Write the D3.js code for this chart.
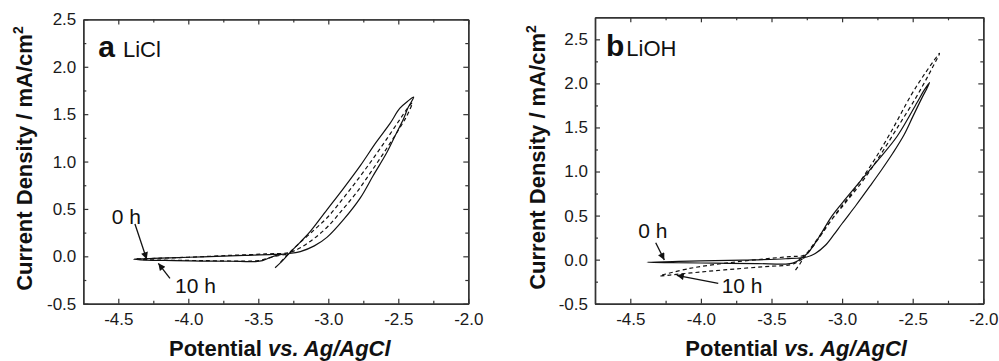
<!DOCTYPE html>
<html>
<head>
<meta charset="utf-8">
<script src="https://cdn.jsdelivr.net/npm/d3@7"></script>
<style>
  body { margin: 0; background: #fff; }
  svg { display: block; font-family: "Liberation Sans", Arial, sans-serif; }
  .tick text { font-size: 17px; fill: #1a1a1a; }
  .axis path, .axis line { stroke: #333; }
</style>
</head>
<body>
<svg id="chart"></svg>
<script>
// tick values
const xTicks = [-4.5, -4.0, -3.5, -3.0, -2.5, -2.0];
const xMinor = [-4.25, -3.75, -3.25, -2.75, -2.25];
const yTicks = [-0.5, 0.0, 0.5, 1.0, 1.5, 2.0, 2.5];
const yMinor = [-0.25, 0.25, 0.75, 1.25, 1.75, 2.25];

// LiCl, 0 h (solid) - potential V, current mA/cm2
const licl0h = [
  [-3.38, -0.12], [-3.33, -0.05], [-3.28, 0.03], [-3.20, 0.15], [-3.13, 0.26], [-3.01, 0.49],
  [-2.89, 0.72], [-2.77, 0.96], [-2.66, 1.20], [-2.56, 1.40], [-2.49, 1.56], [-2.43, 1.64], [-2.39, 1.68],
  [-2.43, 1.57], [-2.46, 1.46], [-2.52, 1.28], [-2.58, 1.10], [-2.68, 0.85], [-2.77, 0.62], [-2.89, 0.39],
  [-3.01, 0.20], [-3.10, 0.11], [-3.20, 0.05], [-3.28, 0.03],
  [-3.40, 0.02], [-3.60, 0.01], [-3.80, 0.00], [-4.00, -0.01], [-4.20, -0.02], [-4.39, -0.03],
  [-4.30, -0.04], [-4.10, -0.045], [-3.90, -0.05], [-3.70, -0.052], [-3.52, -0.055], [-3.47, -0.045],
  [-3.42, -0.015], [-3.37, 0.01], [-3.30, 0.025]
];
// LiCl, 10 h (dashed)
const licl10h = [
  [-3.34, -0.06], [-3.29, 0.02], [-3.22, 0.12], [-3.10, 0.28], [-3.00, 0.42], [-2.90, 0.60], [-2.80, 0.79],
  [-2.70, 0.99], [-2.60, 1.20], [-2.50, 1.42], [-2.44, 1.55], [-2.40, 1.62],
  [-2.44, 1.48], [-2.50, 1.33], [-2.60, 1.10], [-2.70, 0.88], [-2.80, 0.67], [-2.90, 0.49], [-3.00, 0.32],
  [-3.10, 0.19], [-3.20, 0.09], [-3.28, 0.04],
  [-3.45, 0.025], [-3.70, 0.01], [-4.00, -0.01], [-4.20, -0.02], [-4.38, -0.03],
  [-4.20, -0.04], [-3.90, -0.045], [-3.60, -0.05], [-3.50, -0.045], [-3.44, -0.025], [-3.38, 0.00], [-3.30, 0.02]
];
// LiOH, 0 h (solid)
const lioh0h = [
  [-3.29, 0.015], [-3.24, 0.08], [-3.17, 0.24], [-3.07, 0.50], [-2.97, 0.70], [-2.85, 0.93], [-2.74, 1.14],
  [-2.61, 1.40], [-2.47, 1.78], [-2.42, 1.92], [-2.38, 2.01],
  [-2.40, 1.94], [-2.43, 1.85], [-2.50, 1.62], [-2.56, 1.42], [-2.64, 1.21], [-2.72, 1.02], [-2.80, 0.84],
  [-2.90, 0.62], [-3.00, 0.41], [-3.06, 0.28], [-3.12, 0.16], [-3.19, 0.07], [-3.25, 0.03],
  [-3.40, 0.01], [-3.70, -0.005], [-4.00, -0.015], [-4.20, -0.022], [-4.38, -0.03],
  [-4.20, -0.035], [-3.90, -0.04], [-3.60, -0.045], [-3.40, -0.05], [-3.35, -0.04], [-3.31, -0.01], [-3.29, 0.015]
];
// LiOH, 10 h (dashed)
const lioh10h = [
  [-3.33, -0.12], [-3.30, -0.05], [-3.27, 0.02], [-3.22, 0.12], [-3.14, 0.30], [-3.04, 0.53], [-2.92, 0.78],
  [-2.78, 1.11], [-2.65, 1.46], [-2.51, 1.87], [-2.41, 2.12], [-2.31, 2.34],
  [-2.36, 2.18], [-2.42, 2.00], [-2.48, 1.83], [-2.60, 1.52], [-2.74, 1.16], [-2.86, 0.88], [-3.00, 0.60],
  [-3.10, 0.40], [-3.20, 0.18], [-3.27, 0.05],
  [-3.37, 0.035], [-3.60, 0.00], [-3.85, -0.045], [-4.08, -0.10], [-4.29, -0.185],
  [-4.22, -0.175], [-4.00, -0.14], [-3.75, -0.105], [-3.50, -0.075], [-3.37, -0.06], [-3.32, -0.03], [-3.28, 0.01]
];

// annotation labels and arrows, data units: [text, textX, textY, fromX, fromY, toX, toY]
const ann0hA = ["0 h", -4.547, 0.338, -4.381, 0.341, -4.297, -0.032];
const ann10hA = ["10 h", -4.095, -0.39, -4.131, -0.232, -4.214, -0.074];
const ann0hB = ["0 h", -4.443, 0.242, -4.32, 0.192, -4.259, -0.004];
const ann10hB = ["10 h", -3.853, -0.382, -3.877, -0.269, -4.171, -0.178];

const W = 999, H = 361;
const svg = d3.select("#chart").attr("width", W).attr("height", H);

svg.append("defs").append("marker")
  .attr("id", "arrow")
  .attr("viewBox", "0 0 10 10")
  .attr("refX", 10).attr("refY", 5)
  .attr("markerWidth", 9).attr("markerHeight", 7)
  .attr("markerUnits", "userSpaceOnUse")
  .attr("orient", "auto")
  .append("path").attr("d", "M0,0 L10,5 L0,10 z").attr("fill", "#111");

const fmt = d => d.toFixed(1);

function drawPanel(p) {
  const x = d3.scaleLinear().domain([-4.75, -2.0]).range([p.l, p.r]);
  const y = d3.scaleLinear().domain(p.yDomain).range([p.b, p.t]);
  const g = svg.append("g");

  // frame + ticks (all inward)
  g.append("g").attr("class", "axis").attr("transform", `translate(0,${p.b})`)
    .call(d3.axisBottom(x).tickValues(xTicks).tickFormat(fmt).tickSize(-5).tickSizeOuter(0).tickPadding(9));
  g.append("g").attr("class", "axis").attr("transform", `translate(0,${p.b})`)
    .call(d3.axisBottom(x).tickValues(xMinor).tickFormat("").tickSize(-3).tickSizeOuter(0));
  g.append("g").attr("class", "axis").attr("transform", `translate(0,${p.t})`)
    .call(d3.axisTop(x).tickValues(xTicks).tickFormat("").tickSize(-5).tickSizeOuter(0));
  g.append("g").attr("class", "axis").attr("transform", `translate(0,${p.t})`)
    .call(d3.axisTop(x).tickValues(xMinor).tickFormat("").tickSize(-3).tickSizeOuter(0));
  g.append("g").attr("class", "axis").attr("transform", `translate(${p.l},0)`)
    .call(d3.axisLeft(y).tickValues(yTicks).tickFormat(fmt).tickSize(-5).tickSizeOuter(0).tickPadding(7));
  g.append("g").attr("class", "axis").attr("transform", `translate(${p.l},0)`)
    .call(d3.axisLeft(y).tickValues(yMinor).tickFormat("").tickSize(-3).tickSizeOuter(0));
  g.append("g").attr("class", "axis").attr("transform", `translate(${p.r},0)`)
    .call(d3.axisRight(y).tickValues(yTicks).tickFormat("").tickSize(-5).tickSizeOuter(0));
  g.append("g").attr("class", "axis").attr("transform", `translate(${p.r},0)`)
    .call(d3.axisRight(y).tickValues(yMinor).tickFormat("").tickSize(-3).tickSizeOuter(0));
  g.selectAll(".axis path").attr("stroke-width", 1.4);
  g.selectAll(".axis line").attr("stroke-width", 1.2);

  const line = d3.line().x(d => x(d[0])).y(d => y(d[1])).curve(d3.curveCatmullRom.alpha(0.5));
  g.append("path").datum(p.solid).attr("d", line)
    .attr("fill", "none").attr("stroke", "#111").attr("stroke-width", 1.2);
  g.append("path").datum(p.dashed).attr("d", line)
    .attr("fill", "none").attr("stroke", "#111").attr("stroke-width", 1.2).attr("stroke-dasharray", "4,3");

  // panel label
  const lab = g.append("text").attr("x", p.l + p.labDx).attr("y", p.t + p.labDy).attr("fill", "#111");
  lab.append("tspan").attr("font-weight", "bold").attr("font-size", 30).text(p.letter);
  lab.append("tspan").attr("dx", p.gap).attr("font-size", 22).text(p.name);

  // annotations
  p.ann.forEach(a => {
    g.append("text").attr("x", x(a[1])).attr("y", y(a[2]))
      .attr("font-size", 21).attr("fill", "#111").text(a[0]);
    g.append("line")
      .attr("x1", x(a[3])).attr("y1", y(a[4])).attr("x2", x(a[5])).attr("y2", y(a[6]))
      .attr("stroke", "#111").attr("stroke-width", 1.3).attr("marker-end", "url(#arrow)");
  });

  // axis titles
  const xt = g.append("text").attr("x", (p.l + p.r) / 2 + p.xtDx).attr("y", 356)
    .attr("text-anchor", "middle").attr("font-size", 22).attr("font-weight", "bold").attr("fill", "#111");
  xt.append("tspan").text("Potential ");
  xt.append("tspan").attr("font-style", "italic").text("vs. Ag/AgCl");

  const yt = g.append("text")
    .attr("transform", `translate(${p.ytX},${(p.t + p.b) / 2 - 3}) rotate(-90)`)
    .attr("text-anchor", "middle").attr("font-size", 22).attr("font-weight", "bold").attr("fill", "#111");
  yt.append("tspan").text("Current Density / mA/cm");
  yt.append("tspan").attr("dy", -9).attr("font-size", 14).text("2");
}

drawPanel({
  l: 83.3, r: 468.3, t: 19.4, b: 303.7, yDomain: [-0.5, 2.5],
  solid: licl0h, dashed: licl10h, ann: [ann0hA, ann10hA],
  letter: "a", name: "LiCl", labDx: 15, labDy: 38, gap: 8,
  xtDx: 4, ytX: 32
});
drawPanel({
  l: 595, r: 983.3, t: 17.3, b: 303.7, yDomain: [-0.5, 2.75],
  solid: lioh0h, dashed: lioh10h, ann: [ann0hB, ann10hB],
  letter: "b", name: "LiOH", labDx: 11, labDy: 39, gap: 2,
  xtDx: 7, ytX: 545
});
</script>
</body>
</html>
